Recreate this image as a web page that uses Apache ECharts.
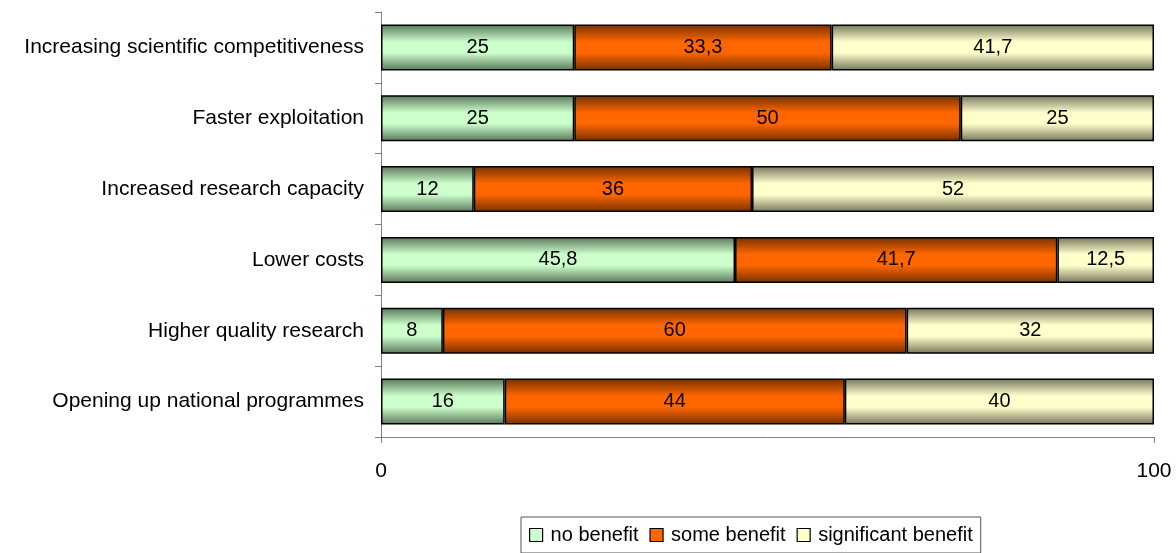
<!DOCTYPE html>
<html>
<head>
<meta charset="utf-8">
<script src="https://cdn.jsdelivr.net/npm/echarts@6/dist/echarts.min.js"></script>
<style>html,body{margin:0;padding:0;background:#fff}#c{width:1176px;height:553px}</style>
</head>
<body>
<div id="c"></div>
<script>
var categories = ["Increasing scientific competitiveness","Faster exploitation","Increased research capacity","Lower costs","Higher quality research","Opening up national programmes"];
var noBenefit = [25, 25, 12, 45.8, 8, 16];
var someBenefit = [33.3, 50, 36, 41.7, 60, 44];
var significantBenefit = [41.7, 25, 52, 12.5, 32, 40];
var seriesNames = ["no benefit","some benefit","significant benefit"];
var xTicks = [0, 100];

var chart = echarts.init(document.getElementById('c'), null, {renderer:'canvas'});
function grad(dark, light){
  return new echarts.graphic.LinearGradient(0,0,0,1,[
    {offset:0,color:dark},{offset:0.38,color:light},{offset:0.62,color:light},{offset:1,color:dark}]);
}
var fills = [grad('#5a755a','#ccffcc'), grad('#733000','#ff6600'), grad('#75755c','#ffffcc')];
var solid = ['#ccffcc','#ff6600','#ffffcc'];
var datasets = [noBenefit, someBenefit, significantBenefit];
var font = 'Liberation Sans, Arial, sans-serif';
var series = datasets.map(function(d,i){
  return {
    name: seriesNames[i], type:'bar', stack:'s', barWidth:'65%',
    data: d,
    itemStyle:{color:fills[i], borderColor:'#000', borderWidth:1.5},
    label:{show:true, position:'inside', color:'#000', fontSize:20, fontFamily:font,
      formatter:function(p){return String(p.value).replace('.',',');}},
    emphasis:{disabled:true}
  };
});
chart.setOption({
  animation:false,
  color: solid,
  grid:{left:381, right:22, top:12, bottom:116, containLabel:false},
  legend:{
    top:517, left:521, orient:'horizontal',
    data: seriesNames.map(function(n,i){return {name:n, itemStyle:{color:solid[i], borderColor:'#000', borderWidth:1.2}};}),
    icon:'rect', itemWidth:13, itemHeight:13, itemGap:11,
    borderColor:'#555', borderWidth:1, padding:[8,8,8,8],
    textStyle:{fontSize:20, fontFamily:font, color:'#000', padding:[0,0,0,3]},
    selectedMode:false
  },
  xAxis:{
    type:'value', min:0, max:100, interval:100,
    axisLine:{show:true, lineStyle:{color:'#808080'}},
    axisTick:{show:true, length:6, lineStyle:{color:'#808080'}},
    splitLine:{show:false},
    axisLabel:{fontSize:21, fontFamily:font, color:'#000', margin:24,
      formatter:function(v){return xTicks.indexOf(v)>=0 ? String(v) : '';}}
  },
  yAxis:{
    type:'category', data:categories, inverse:true,
    axisLine:{show:true, lineStyle:{color:'#808080'}},
    axisTick:{show:true, length:6, alignWithLabel:false, lineStyle:{color:'#808080'}},
    axisLabel:{fontSize:21, fontFamily:font, color:'#000', margin:17}
  },
  series: series
});
</script>
</body>
</html>
